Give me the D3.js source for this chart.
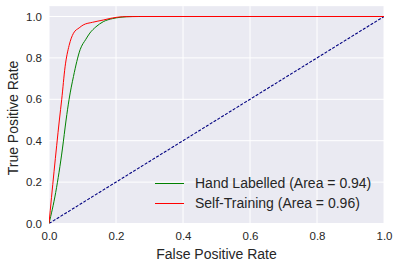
<!DOCTYPE html>
<html><head><meta charset="utf-8">
<script src="https://cdn.jsdelivr.net/npm/d3@7"></script>
<style>body{margin:0;background:#fff}svg{display:block}text{font-family:"Liberation Sans",Arial,sans-serif;fill:#262626}</style>
</head><body>
<script>
const handFpr = [0,0.02,0.04,0.051,0.06,0.073,0.093,0.11,0.122,0.14,0.162,0.19,0.212,0.25,1];
const handTpr = [0,0.15,0.36,0.5,0.6,0.71,0.84,0.89,0.92,0.95,0.975,0.99,0.996,1,1];
const selfFpr = [0,0.015,0.031,0.038,0.048,0.06,0.073,0.09,0.102,0.13,0.162,0.19,0.22,0.27,1];
const selfTpr = [0,0.25,0.5,0.6,0.757,0.86,0.919,0.945,0.959,0.972,0.983,0.993,0.999,1,1];
const diagonal = [0,1];
const ticks = [0,0.2,0.4,0.6,0.8,1.0];
const seriesNames = ["Hand Labelled (Area = 0.94)","Self-Training (Area = 0.96)"];
const seriesColors = ["green","red"];

const W=399,H=268;
const svg=d3.select("body").append("svg").attr("width",W).attr("height",H);
const x=d3.scaleLinear().domain([0,1]).range([49,384]);
const y=d3.scaleLinear().domain([0,1.05]).range([223.5,6.15]);
svg.append("rect").attr("x",x(0)).attr("y",y(1.05)).attr("width",x(1)-x(0)).attr("height",y(0)-y(1.05)).attr("fill","#EAEAF2");
const g=svg.append("g");
ticks.forEach(t=>{
  g.append("line").attr("x1",x(t)).attr("x2",x(t)).attr("y1",y(0)).attr("y2",y(1.05)).attr("stroke","#fff").attr("stroke-width",1);
  g.append("line").attr("x1",x(0)).attr("x2",x(1)).attr("y1",y(t)).attr("y2",y(t)).attr("stroke","#fff").attr("stroke-width",1);
});
const xa=svg.append("g").attr("transform",`translate(0,${y(0)})`).call(d3.axisBottom(x).tickValues(ticks).tickFormat(d3.format(".1f")).tickSize(0).tickPadding(8));
const ya=svg.append("g").attr("transform",`translate(${x(0)},0)`).call(d3.axisLeft(y).tickValues(ticks).tickFormat(d3.format(".1f")).tickSize(0).tickPadding(7));
[xa,ya].forEach(a=>{a.select(".domain").remove();a.selectAll("text").style("font-family","Liberation Sans, Arial, sans-serif").style("font-size","11.5px").attr("fill","#262626");});

const line=d3.line().x(d=>x(d[0])).y(d=>y(d[1]));
const clip=svg.append("clipPath").attr("id","c").append("rect").attr("x",x(0)).attr("y",y(1.05)).attr("width",x(1)-x(0)).attr("height",y(0)-y(1.05));
const pg=svg.append("g").attr("clip-path","url(#c)");
pg.append("path").datum(diagonal.map(v=>[v,v])).attr("d",line).attr("fill","none").attr("stroke","navy").attr("stroke-width",1.1).attr("stroke-dasharray","3,1.5");
pg.append("path").datum(handFpr.map((v,i)=>[v,handTpr[i]])).attr("d",d3.line().curve(d3.curveMonotoneX).x(d=>x(d[0])).y(d=>y(d[1]))).attr("fill","none").attr("stroke",seriesColors[0]).attr("stroke-width",1);
pg.append("path").datum(selfFpr.map((v,i)=>[v,selfTpr[i]])).attr("d",d3.line().curve(d3.curveMonotoneX).x(d=>x(d[0])).y(d=>y(d[1]))).attr("fill","none").attr("stroke",seriesColors[1]).attr("stroke-width",1);

seriesNames.forEach((n,i)=>{
  const yy=183.5+i*20;
  svg.append("line").attr("x1",155).attr("x2",184).attr("y1",yy).attr("y2",yy).attr("stroke",seriesColors[i]).attr("stroke-width",1);
  svg.append("text").attr("x",195).attr("y",yy).attr("dy","0.35em").style("font-size","14px").text(n);
});
svg.append("text").attr("x",216.5).attr("y",254).attr("dy","0.35em").attr("text-anchor","middle").style("font-size","14px").text("False Positive Rate");
svg.append("text").attr("transform","translate(13,118) rotate(-90)").attr("dy","0.35em").attr("text-anchor","middle").style("font-size","14px").text("True Positive Rate");
</script>
</body></html>
